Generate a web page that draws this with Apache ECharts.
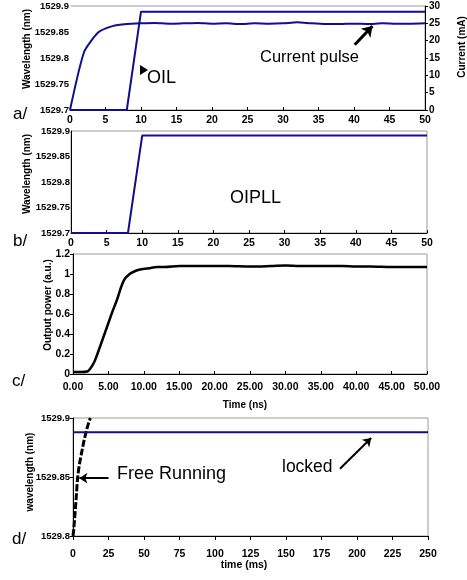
<!DOCTYPE html>
<html>
<head>
<meta charset="utf-8">
<title>Injection locking</title>
<script src="https://cdn.jsdelivr.net/npm/echarts@6/dist/echarts.min.js"></script>
<style>
  html, body { margin: 0; padding: 0; background: #fff; }
  #chart { width: 467px; height: 580px; }
</style>
</head>
<body>
<div id="chart"></div>
<script>
// panel a: current pulse (mA) and OIL wavelength (nm) vs time (ns)
var currentPulse = [
  [0, 0], [2, 16.8], [4, 22.4], [6, 24.2], [8, 24.8], [10, 25.0], [12, 25.1], [14, 24.9],
  [16, 25.0], [18, 25.1], [20, 24.9], [22, 25.0], [24, 24.8], [26, 25.0], [28, 24.9],
  [30, 25.0], [32, 25.3], [34, 25.0], [36, 24.8], [38, 24.8], [40, 24.9], [42, 24.8],
  [44, 25.0], [46, 24.9], [48, 24.9], [50, 25.0]
]
var oilWavelength = [[0, 1529.7], [8, 1529.7], [10, 1529.889], [50, 1529.889]]

// panel b: OIPLL wavelength (nm) vs time (ns)
var oipllWavelength = [[0, 1529.7], [8, 1529.7], [10, 1529.891], [50, 1529.891]]

// panel c: output power (a.u.) vs time (ns)
var outputPower = [
  [0, 0.02], [1, 0.02], [2, 0.025], [2.4, 0.05], [3, 0.12], [3.8, 0.27], [4.4, 0.39],
  [5, 0.51], [5.6, 0.63], [6.2, 0.74], [6.8, 0.87], [7.3, 0.95], [8, 1.0], [8.5, 1.02],
  [9.2, 1.04], [9.9, 1.05], [11, 1.06], [11.8, 1.07], [13, 1.07], [15, 1.08], [17, 1.08],
  [20, 1.08], [22, 1.08], [25, 1.075], [28, 1.08], [30, 1.085], [32, 1.08], [35, 1.08],
  [38, 1.08], [40, 1.075], [42, 1.075], [45, 1.07], [48, 1.07], [50, 1.07]
]

// panel d: wavelength (nm) vs time (ms)
var freeRunning = [
  [0, 1529.8], [0.5, 1529.805], [0.9, 1529.811], [1.6, 1529.822], [2.4, 1529.835],
  [3.3, 1529.85], [4.7, 1529.862], [6.3, 1529.872], [7.8, 1529.881], [9.4, 1529.889],
  [10.8, 1529.895], [12.2, 1529.9]
]
var lockedWavelength = [[0, 1529.888], [250, 1529.888]]

var navy = '#10108a'
var font = 'Liberation Sans'

function tickLabel(size, margin, formatter) {
  return {
    color: '#000',
    fontFamily: font,
    fontWeight: 'bold',
    fontSize: size,
    margin: margin,
    formatter: formatter
  }
}

function trim2(v) {
  return String(+v.toFixed(2))
}

function label(text, x, y, size, opts) {
  opts = opts || {}
  return {
    type: 'text',
    x: x,
    y: y,
    rotation: opts.rotate ? Math.PI / 2 : 0,
    style: {
      text: text,
      fill: '#000',
      fontFamily: font,
      fontSize: size,
      fontWeight: opts.bold ? 'bold' : 'normal',
      align: opts.align || 'left',
      verticalAlign: 'middle'
    }
  }
}

var chart = echarts.init(document.getElementById('chart'))

var border = { show: true, borderColor: '#9a9a9a', borderWidth: 1 }
var black = { lineStyle: { color: '#000', width: 1 } }

chart.setOption({
  animation: false,
  grid: [
    Object.assign({ left: 70, top: 6, width: 355, height: 104 }, border),
    Object.assign({ left: 71, top: 131, width: 356, height: 102 }, border),
    Object.assign({ left: 73, top: 254, width: 354, height: 120 }, border),
    Object.assign({ left: 73, top: 418, width: 355, height: 118 }, border)
  ],
  xAxis: [
    {
      gridIndex: 0, type: 'value', min: 0, max: 50, interval: 5,
      axisLine: black, axisTick: { inside: true, length: 3, lineStyle: { color: '#000' } },
      axisLabel: tickLabel(10.5, 5), splitLine: { show: false }
    },
    {
      gridIndex: 1, type: 'value', min: 0, max: 50, interval: 5,
      axisLine: black, axisTick: { inside: true, length: 3, lineStyle: { color: '#000' } },
      axisLabel: tickLabel(10.5, 5), splitLine: { show: false }
    },
    {
      gridIndex: 2, type: 'value', min: 0, max: 50, interval: 5,
      axisLine: black, axisTick: { inside: true, length: 3, lineStyle: { color: '#000' } },
      axisLabel: tickLabel(10.5, 8, function (v) { return v.toFixed(2) }),
      splitLine: { show: false }
    },
    {
      gridIndex: 3, type: 'value', min: 0, max: 250, interval: 25,
      axisLine: black, axisTick: { length: 4, lineStyle: { color: '#000' } },
      axisLabel: tickLabel(10.5, 13), splitLine: { show: false }
    }
  ],
  yAxis: [
    {
      // panel a has no visible left frame: a white axis line hides the grid border there
      gridIndex: 0, type: 'value', min: 1529.7, max: 1529.9, interval: 0.05,
      axisLine: { show: true, lineStyle: { color: '#fff', width: 2 } }, axisTick: { show: false },
      axisLabel: tickLabel(9.5, 1, trim2), splitLine: { show: false }
    },
    {
      gridIndex: 0, type: 'value', position: 'right', min: 0, max: 30, interval: 5,
      axisLine: { show: true, lineStyle: { color: '#000', width: 1 } },
      axisTick: { show: true, length: 3, lineStyle: { color: '#000' } },
      axisLabel: tickLabel(10, 4), splitLine: { show: false }
    },
    {
      gridIndex: 1, type: 'value', min: 1529.7, max: 1529.9, interval: 0.05,
      axisLine: { show: true, lineStyle: { color: '#000', width: 1 } }, axisTick: { show: false },
      axisLabel: tickLabel(9.5, 1, trim2), splitLine: { show: false }
    },
    {
      gridIndex: 2, type: 'value', min: 0, max: 1.2, interval: 0.2,
      axisLine: { show: true, lineStyle: { color: '#000', width: 1 } },
      axisTick: { show: true, length: 3, lineStyle: { color: '#000' } },
      axisLabel: tickLabel(10.5, 3, trim2), splitLine: { show: false }
    },
    {
      gridIndex: 3, type: 'value', min: 1529.8, max: 1529.9, interval: 0.05,
      axisLine: { show: true, lineStyle: { color: '#000', width: 1 } },
      axisTick: { show: true, length: 3, lineStyle: { color: '#000' } },
      axisLabel: tickLabel(9.5, 3, trim2), splitLine: { show: false }
    }
  ],
  series: [
    {
      name: 'OIL wavelength', type: 'line', xAxisIndex: 0, yAxisIndex: 0,
      data: oilWavelength, symbol: 'none', lineStyle: { color: navy, width: 2 }
    },
    {
      name: 'Current', type: 'line', xAxisIndex: 0, yAxisIndex: 1,
      data: currentPulse, symbol: 'none', smooth: 0.2, lineStyle: { color: navy, width: 2 },
      markLine: {
        silent: true, symbol: ['none', 'arrow'], symbolSize: 10,
        lineStyle: { color: '#000', width: 3, type: 'solid' }, label: { show: false },
        data: [[{ coord: [40.1, 18.8] }, { coord: [42.6, 24.2] }]]
      }
    },
    {
      name: 'OIPLL wavelength', type: 'line', xAxisIndex: 1, yAxisIndex: 2,
      data: oipllWavelength, symbol: 'none', lineStyle: { color: navy, width: 2 }
    },
    {
      name: 'Output power', type: 'line', xAxisIndex: 2, yAxisIndex: 3,
      data: outputPower, symbol: 'none', smooth: 0.3, lineStyle: { color: '#000', width: 2.5 }
    },
    {
      name: 'Free running', type: 'line', xAxisIndex: 3, yAxisIndex: 4,
      data: freeRunning, symbol: 'none', smooth: 0.3,
      lineStyle: { color: '#000', width: 3, type: [7, 2] },
      markLine: {
        silent: true, symbol: ['none', 'arrow'], symbolSize: 8,
        lineStyle: { color: '#000', width: 2, type: 'solid' }, label: { show: false },
        data: [[{ coord: [25, 1529.849] }, { coord: [4.5, 1529.849] }]]
      }
    },
    {
      name: 'Locked', type: 'line', xAxisIndex: 3, yAxisIndex: 4,
      data: lockedWavelength, symbol: 'none', lineStyle: { color: navy, width: 2 },
      markLine: {
        silent: true, symbol: ['none', 'arrow'], symbolSize: 8,
        lineStyle: { color: '#000', width: 2, type: 'solid' }, label: { show: false },
        data: [[{ coord: [188, 1529.857] }, { coord: [210, 1529.883] }]]
      }
    }
  ],
  graphic: [
    label('a/', 13, 114, 17),
    label('b/', 13, 241, 17),
    label('c/', 12, 381, 17),
    label('d/', 12, 539, 17),
    label('Wavelength (nm)', 27, 49, 10, { rotate: true, bold: true, align: 'center' }),
    label('Current (mA)', 462, 47, 10, { rotate: true, bold: true, align: 'center' }),
    label('Wavelength (nm)', 27, 174, 10, { rotate: true, bold: true, align: 'center' }),
    label('Output power (a.u.)', 48, 305, 10, { rotate: true, bold: true, align: 'center' }),
    label('wavelength (nm)', 30, 472, 10, { rotate: true, bold: true, align: 'center' }),
    label('Time (ns)', 245, 405, 10, { bold: true, align: 'center' }),
    label('time (ms)', 244, 565, 10.5, { bold: true, align: 'center' }),
    label('OIL', 147, 78, 18),
    {
      type: 'polygon',
      shape: { points: [[140, 65], [148, 70], [140, 75]] },
      style: { fill: '#000' }
    },
    label('Current pulse', 260, 57, 16.5),
    label('OIPLL', 230, 198, 18),
    label('Free Running', 117, 474, 18),
    label('locked', 282, 467, 17.5)
  ]
})
</script>
</body>
</html>
